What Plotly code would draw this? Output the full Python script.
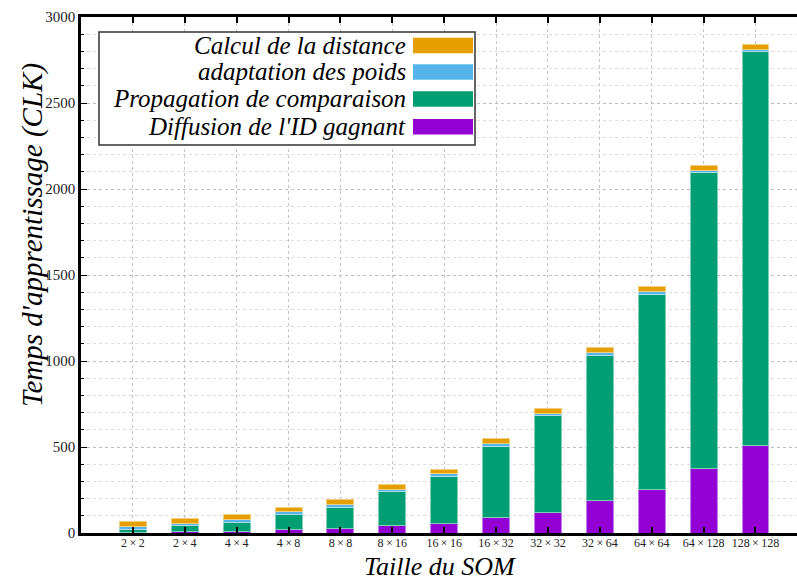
import plotly.graph_objects as go

# SOM sizes and per-phase learning time (clock cycles)
sizes = ["2 × 2", "2 × 4", "4 × 4", "4 × 8", "8 × 8", "8 × 16", "16 × 16",
         "16 × 32", "32 × 32", "32 × 64", "64 × 64", "64 × 128", "128 × 128"]
diffusion = [4, 9, 10, 19, 27, 43, 58, 91, 122, 189, 251, 377, 509]
propagation = [16, 33, 52, 87, 124, 197, 269, 412, 559, 845, 1135, 1717, 2290]
adaptation = [16, 16, 19, 20, 17, 15, 17, 17, 16, 17, 17, 16, 13]
distance = [29, 25, 25, 23, 25, 27, 28, 28, 29, 27, 29, 27, 29]

series = [
    ("Diffusion de l'ID gagnant", diffusion, "#9400D3", "#C27FE9"),
    ("Propagation de comparaison", propagation, "#009E73", "#7FCEB9"),
    ("adaptation des poids", adaptation, "#56B4E9", "#AAD9F4"),
    ("Calcul de la distance", distance, "#E69F00", "#F2CF7F"),
]

SERIF = "Liberation Serif, Times New Roman, serif"

W, H = 797, 580
ML, MR, MT, MB = 81, 0, 17, 47

# tick labels use thin spaces around the multiplication sign
tick_text = [s.replace(" ", "\u2009") for s in sizes]

fig = go.Figure()
for name, vals, col, edge in series:
    fig.add_trace(go.Bar(
        x=sizes, y=vals, name=name, width=0.52,
        marker=dict(color=col, line=dict(color=edge, width=1)),
        showlegend=False,
    ))


def px_to_paper(px, py):
    return (px - ML) / (W - ML - MR), (H - MB - py) / (H - MT - MB)


# Legend box with right-aligned labels and swatches on the right
shapes = []
annotations = []
x0, y0 = px_to_paper(99, 32)
x1, y1 = px_to_paper(475, 145)
shapes.append(dict(type="rect", xref="paper", yref="paper",
                   x0=x0, x1=x1, y0=y1, y1=y0,
                   line=dict(color="#333333", width=1.5),
                   fillcolor="white", layer="above"))
legend_rows = [series[3], series[2], series[1], series[0]]
row_centres = [45.5, 72.0, 99.0, 126.7]
for (name, _, col, _), cy in zip(legend_rows, row_centres):
    sx0, sy0 = px_to_paper(413, cy - 7.8)
    sx1, sy1 = px_to_paper(473, cy + 7.8)
    shapes.append(dict(type="rect", xref="paper", yref="paper",
                       x0=sx0, x1=sx1, y0=sy1, y1=sy0,
                       line=dict(width=0), fillcolor=col, layer="above"))
    tx, ty = px_to_paper(408, cy)
    annotations.append(dict(xref="paper", yref="paper", x=tx, y=ty,
                            xanchor="right", yanchor="middle", showarrow=False,
                            text=f"<i>{name}</i>",
                            font=dict(family=SERIF, size=25, color="black")))

# Axis titles placed explicitly
ytx, yty = px_to_paper(32, 235)
annotations.append(dict(xref="paper", yref="paper", x=ytx, y=yty,
                        xanchor="center", yanchor="middle", textangle=-90,
                        showarrow=False,
                        text="<i>Temps d'apprentissage (CLK)</i>",
                        font=dict(family=SERIF, size=29, color="black")))
xtx, xty = px_to_paper(440, 566)
annotations.append(dict(xref="paper", yref="paper", x=xtx, y=xty,
                        xanchor="center", yanchor="middle", showarrow=False,
                        text="<i>Taille du SOM</i>",
                        font=dict(family=SERIF, size=26, color="black")))

fig.update_layout(
    width=W, height=H,
    margin=dict(l=ML, r=MR, t=MT, b=MB, pad=0),
    paper_bgcolor="white", plot_bgcolor="white",
    barmode="stack", bargap=0.48,
    shapes=shapes, annotations=annotations,
    font=dict(family=SERIF, color="black"),
)

fig.update_xaxes(
    type="category", range=[-1, 12.8],
    tickmode="array", tickvals=sizes, ticktext=tick_text,
    showline=True, linecolor="black", linewidth=2.5, mirror="ticks",
    ticks="inside", ticklen=6, tickcolor="black", tickwidth=1.5,
    ticklabelstandoff=-3,
    showgrid=True, gridcolor="#c4c4c4", griddash="dot", gridwidth=1,
    tickfont=dict(family=SERIF, size=12, color="#222222"),
)

fig.update_yaxes(
    range=[0, 3000], tickvals=[0, 500, 1000, 1500, 2000, 2500, 3000],
    showline=True, linecolor="black", linewidth=2.5,
    ticks="inside", ticklen=6, tickcolor="black", tickwidth=1,
    showgrid=True, gridcolor="#bdbdbd", griddash="dot", gridwidth=1,
    zeroline=False,
    minor=dict(dtick=100, ticks="inside", ticklen=3, tickcolor="black",
               showgrid=True, gridcolor="#dcdcdc", griddash="dot", gridwidth=1),
    tickfont=dict(family=SERIF, size=15, color="#222222"),
)

fig.write_html("out.html")
